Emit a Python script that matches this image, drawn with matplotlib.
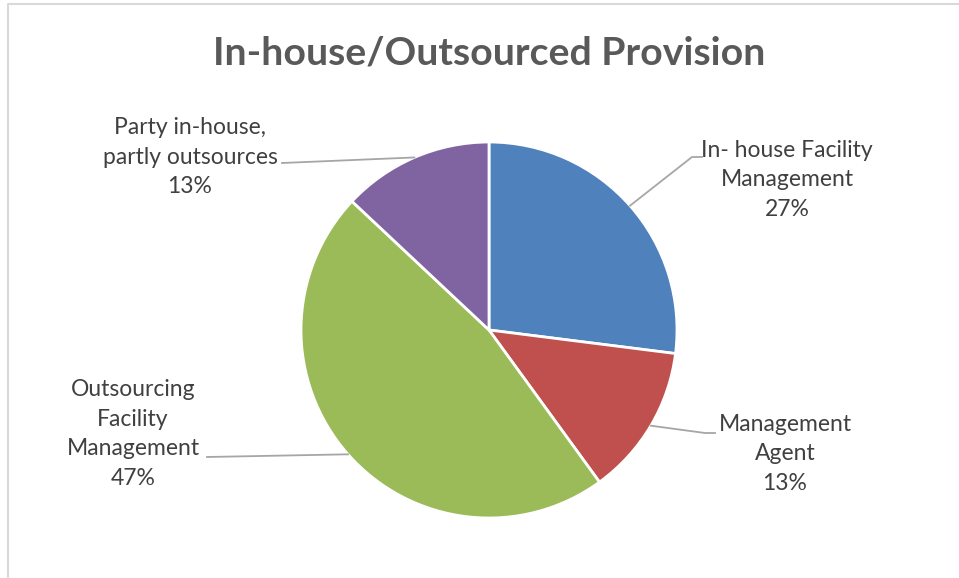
import numpy as np
import matplotlib
matplotlib.use("Agg")
import matplotlib.pyplot as plt

categories = ["In- house Facility\nManagement", "Management\nAgent",
              "Outsourcing\nFacility\nManagement", "Party in-house,\npartly outsources"]
shares = [27, 13, 47, 13]
colors = ["#4F81BD", "#C0504D", "#9BBB59", "#8064A2"]

W, H = 959, 578
fig = plt.figure(figsize=(W / 100, H / 100), dpi=100)
ax = fig.add_axes([0, 0, 1, 1])

# frame (chart area border, cut off at right/bottom)
ax.plot([8, 8, W + 5], [-5, H - 4, H - 4], color="#D9D9D9", lw=1.5)

cx, cy, r = 489, H - 330, 188
wedges, _ = ax.pie(shares, colors=colors, startangle=90, counterclock=False,
                   center=(cx, cy), radius=r, frame=True,
                   wedgeprops=dict(edgecolor="white", linewidth=2))
ax.set_xlim(0, W)
ax.set_ylim(0, H)
ax.set_aspect("equal")
ax.axis("off")

ax.text(489, H - 53, "In-house/Outsourced Provision", ha="center", va="center",
        fontsize=28.3, fontweight="bold", color="#595959", family="Lato")

# label text centre, leader elbow, leader end (pixel layout, y from top)
label_pos = [(787, 180), (785, 454), (133, 434), (190, 157)]
elbows = [[(692, 157), (702, 157)], [(705, 433), (715, 433)],
          [(207, 457)], [(282, 163)]]

lbl = ["%s\n%d%%" % (c, v) for c, v in zip(categories, shares)]
for w, txt, (lx, ly), pts in zip(wedges, lbl, label_pos, elbows):
    ang = np.deg2rad((w.theta1 + w.theta2) / 2)
    sx, sy = cx + r * np.cos(ang), cy + r * np.sin(ang)
    xs = [sx] + [p[0] for p in pts]
    ys = [sy] + [H - p[1] for p in pts]
    ax.plot(xs, ys, color="#A6A6A6", lw=1.3)
    ax.text(lx, H - ly, txt, ha="center", va="center", multialignment="center",
            fontsize=16.5, color="#404040", family="Lato", linespacing=1.5)

fig.savefig("out.png", dpi=100)
